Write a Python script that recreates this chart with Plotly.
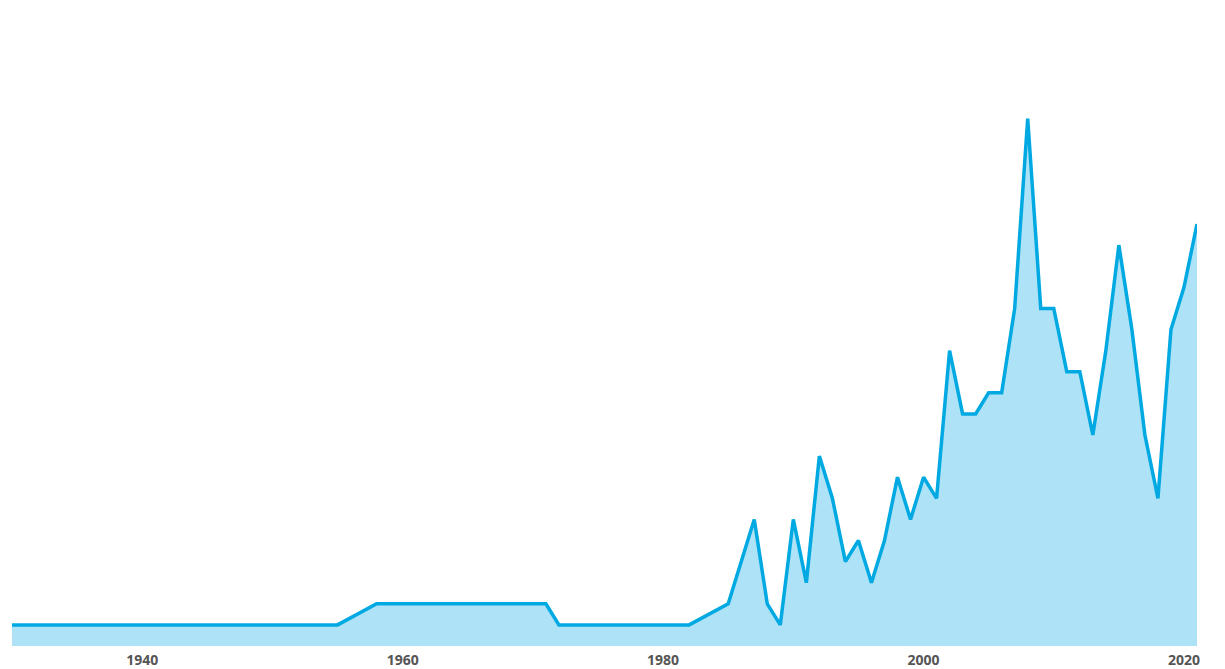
import plotly.graph_objects as go

years = [1930, 1955, 1958, 1971, 1972, 1982, 1985, 1987, 1988, 1989, 1990,
         1991, 1992, 1993, 1994, 1995, 1996, 1997, 1998, 1999, 2000,
         2001, 2002, 2003, 2004, 2005, 2006, 2007, 2008, 2009, 2010,
         2011, 2012, 2013, 2014, 2015, 2016, 2017, 2018, 2019, 2020, 2021]
counts = [1, 1, 2, 2, 1, 1, 2, 6, 2, 1, 6,
          3, 9, 7, 4, 5, 3, 5, 8, 6, 8,
          7, 14, 11, 11, 12, 12, 16, 25, 16, 16,
          13, 13, 10, 14, 19, 15, 10, 7, 15, 17, 20]
tick_vals = [1940, 1960, 1980, 2000, 2020]
tick_text = ["1940", "1960", "1980", "2000", "2020"]

fig = go.Figure()
fig.add_trace(go.Scatter(
    x=years, y=counts, mode="lines", fill="tozeroy",
    line=dict(color="#00A9E2", width=3.5),
    fillcolor="#AEE2F6", hoverinfo="x+y", showlegend=False,
))
fig.update_layout(
    width=1217, height=661,
    margin=dict(l=4, r=28, t=5, b=23, autoexpand=False),
    paper_bgcolor="white", plot_bgcolor="white",
    font=dict(family="Open Sans", size=14, color="#555555"),
    xaxis=dict(range=[1930, 2021], tickvals=tick_vals, ticktext=tick_text,
               showgrid=False, zeroline=False, showline=False, ticks="",
               ticklabelstandoff=4, automargin=False,
               tickfont=dict(family="Open Sans", size=14, color="#555555", weight="bold")),
    yaxis=dict(range=[0, 30], visible=False, showgrid=False, zeroline=False,
               automargin=False),
)
fig.write_html("out.html")
